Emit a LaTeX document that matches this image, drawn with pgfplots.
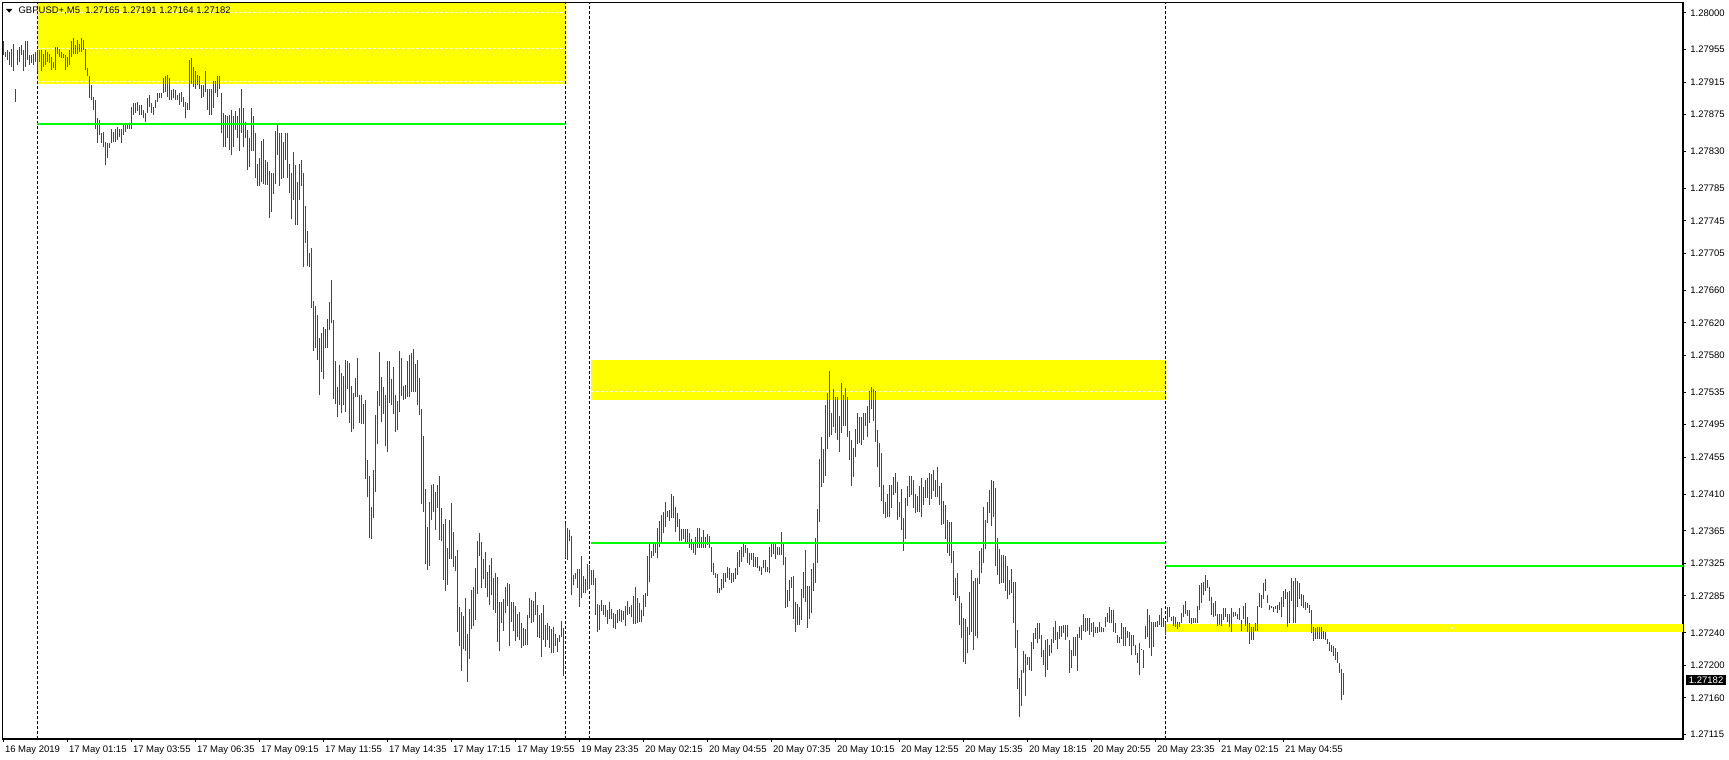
\documentclass[border=0pt]{standalone}
\usepackage{fontspec}
\setmainfont{Liberation Sans}
\usepackage{pgfplots}
\pgfplotsset{compat=1.18}
\usepackage{pgfplotstable}
\definecolor{barred}{RGB}{230,0,0}
\definecolor{zone}{RGB}{255,255,0}
\definecolor{level}{RGB}{0,255,0}
\newcommand\lbl{\fontsize{4.75pt}{5pt}\selectfont}

% GBPUSD M5 bars: index, high, low
\pgfplotstableread{
i h l
0 1.27965 1.27948
1 1.27952 1.27946
2 1.27954 1.27942
3 1.27952 1.27936
4 1.27956 1.27934
5 1.27962 1.27929
6 1.27907 1.27891
7 1.27954 1.27936
8 1.27958 1.27940
9 1.27960 1.27948
10 1.27954 1.27928
11 1.27965 1.27934
12 1.27965 1.27942
13 1.27948 1.27936
14 1.27948 1.27938
15 1.27950 1.27936
16 1.27952 1.27940
17 1.27954 1.27928
18 1.27954 1.27940
19 1.27954 1.27928
20 1.27950 1.27934
21 1.27954 1.27936
22 1.27952 1.27940
23 1.27950 1.27938
24 1.27946 1.27930
25 1.27940 1.27932
26 1.27958 1.27930
27 1.27958 1.27950
28 1.27956 1.27946
29 1.27952 1.27944
30 1.27950 1.27944
31 1.27948 1.27930
32 1.27946 1.27934
33 1.27954 1.27936
34 1.27965 1.27946
35 1.27969 1.27950
36 1.27960 1.27950
37 1.27967 1.27950
38 1.27962 1.27952
39 1.27969 1.27952
40 1.27967 1.27954
41 1.27956 1.27930
42 1.27932 1.27922
43 1.27922 1.27895
44 1.27911 1.27893
45 1.27897 1.27881
46 1.27893 1.27858
47 1.27871 1.27840
48 1.27869 1.27850
49 1.27852 1.27840
50 1.27854 1.27836
51 1.27842 1.27813
52 1.27840 1.27822
53 1.27840 1.27834
54 1.27858 1.27840
55 1.27854 1.27842
56 1.27858 1.27842
57 1.27860 1.27844
58 1.27858 1.27848
59 1.27858 1.27840
60 1.27862 1.27850
61 1.27862 1.27854
62 1.27864 1.27858
63 1.27862 1.27858
64 1.27885 1.27858
65 1.27889 1.27875
66 1.27889 1.27877
67 1.27891 1.27879
68 1.27887 1.27875
69 1.27887 1.27875
70 1.27881 1.27871
71 1.27877 1.27866
72 1.27895 1.27877
73 1.27899 1.27885
74 1.27889 1.27877
75 1.27885 1.27875
76 1.27893 1.27883
77 1.27901 1.27891
78 1.27901 1.27895
79 1.27901 1.27895
80 1.27920 1.27901
81 1.27922 1.27903
82 1.27924 1.27897
83 1.27920 1.27893
84 1.27905 1.27893
85 1.27907 1.27895
86 1.27905 1.27893
87 1.27899 1.27893
88 1.27901 1.27887
89 1.27903 1.27891
90 1.27897 1.27885
91 1.27891 1.27871
92 1.27889 1.27881
93 1.27942 1.27881
94 1.27944 1.27913
95 1.27934 1.27909
96 1.27928 1.27907
97 1.27924 1.27911
98 1.27922 1.27907
99 1.27911 1.27895
100 1.27911 1.27897
101 1.27928 1.27903
102 1.27907 1.27881
103 1.27907 1.27875
104 1.27907 1.27875
105 1.27916 1.27883
106 1.27916 1.27901
107 1.27922 1.27897
108 1.27922 1.27907
109 1.27901 1.27852
110 1.27877 1.27836
111 1.27875 1.27836
112 1.27873 1.27846
113 1.27875 1.27832
114 1.27881 1.27826
115 1.27873 1.27836
116 1.27879 1.27856
117 1.27873 1.27846
118 1.27883 1.27830
119 1.27907 1.27852
120 1.27883 1.27836
121 1.27866 1.27846
122 1.27856 1.27807
123 1.27846 1.27811
124 1.27883 1.27831
125 1.27873 1.27830
126 1.27852 1.27798
127 1.27815 1.27787
128 1.27822 1.27788
129 1.27843 1.27792
130 1.27845 1.27790
131 1.27820 1.27789
132 1.27817 1.27789
133 1.27806 1.27748
134 1.27803 1.27756
135 1.27803 1.27778
136 1.27855 1.27790
137 1.27864 1.27826
138 1.27853 1.27788
139 1.27853 1.27796
140 1.27842 1.27798
141 1.27853 1.27820
142 1.27853 1.27798
143 1.27815 1.27779
144 1.27804 1.27747
145 1.27829 1.27770
146 1.27813 1.27740
147 1.27793 1.27740
148 1.27815 1.27770
149 1.27820 1.27788
150 1.27804 1.27688
151 1.27763 1.27718
152 1.27732 1.27689
153 1.27705 1.27688
154 1.27712 1.27638
155 1.27647 1.27585
156 1.27641 1.27589
157 1.27629 1.27574
158 1.27601 1.27531
159 1.27607 1.27560
160 1.27615 1.27551
161 1.27612 1.27589
162 1.27625 1.27589
163 1.27645 1.27611
164 1.27672 1.27620
165 1.27623 1.27527
166 1.27573 1.27520
167 1.27541 1.27504
168 1.27568 1.27519
169 1.27558 1.27509
170 1.27555 1.27519
171 1.27574 1.27511
172 1.27573 1.27539
173 1.27571 1.27497
174 1.27542 1.27486
175 1.27534 1.27490
176 1.27552 1.27529
177 1.27577 1.27529
178 1.27531 1.27497
179 1.27531 1.27496
180 1.27520 1.27496
181 1.27525 1.27428
182 1.27452 1.27406
183 1.27432 1.27356
184 1.27394 1.27355
185 1.27440 1.27381
186 1.27507 1.27412
187 1.27536 1.27471
188 1.27584 1.27518
189 1.27553 1.27498
190 1.27541 1.27508
191 1.27531 1.27469
192 1.27573 1.27461
193 1.27573 1.27522
194 1.27551 1.27519
195 1.27566 1.27508
196 1.27531 1.27486
197 1.27524 1.27489
198 1.27585 1.27511
199 1.27577 1.27530
200 1.27542 1.27525
201 1.27544 1.27527
202 1.27573 1.27529
203 1.27580 1.27529
204 1.27583 1.27535
205 1.27588 1.27535
206 1.27569 1.27535
207 1.27574 1.27519
208 1.27552 1.27507
209 1.27514 1.27398
210 1.27481 1.27388
211 1.27416 1.27324
212 1.27370 1.27317
213 1.27400 1.27322
214 1.27421 1.27378
215 1.27422 1.27388
216 1.27412 1.27366
217 1.27421 1.27393
218 1.27432 1.27354
219 1.27393 1.27352
220 1.27373 1.27305
221 1.27379 1.27291
222 1.27344 1.27298
223 1.27378 1.27330
224 1.27399 1.27330
225 1.27363 1.27321
226 1.27334 1.27316
227 1.27341 1.27241
228 1.27272 1.27224
229 1.27265 1.27193
230 1.27261 1.27220
231 1.27283 1.27218
232 1.27238 1.27180
233 1.27269 1.27208
234 1.27292 1.27245
235 1.27296 1.27248
236 1.27319 1.27256
237 1.27352 1.27288
238 1.27362 1.27334
239 1.27351 1.27295
240 1.27330 1.27306
241 1.27339 1.27295
242 1.27314 1.27284
243 1.27323 1.27274
244 1.27332 1.27286
245 1.27307 1.27268
246 1.27313 1.27264
247 1.27308 1.27229
248 1.27278 1.27218
249 1.27278 1.27252
250 1.27281 1.27242
251 1.27296 1.27264
252 1.27301 1.27273
253 1.27300 1.27224
254 1.27278 1.27253
255 1.27278 1.27242
256 1.27273 1.27230
257 1.27263 1.27235
258 1.27265 1.27231
259 1.27252 1.27221
260 1.27246 1.27224
261 1.27245 1.27225
262 1.27262 1.27225
263 1.27283 1.27258
264 1.27280 1.27252
265 1.27279 1.27253
266 1.27290 1.27262
267 1.27274 1.27235
268 1.27262 1.27234
269 1.27264 1.27210
270 1.27274 1.27231
271 1.27250 1.27223
272 1.27252 1.27231
273 1.27248 1.27221
274 1.27245 1.27215
275 1.27247 1.27215
276 1.27238 1.27224
277 1.27234 1.27216
278 1.27237 1.27229
279 1.27254 1.27235
280 1.27246 1.27187
281 1.27373 1.27332
282 1.27368 1.27329
283 1.27366 1.27352
284 1.27359 1.27286
285 1.27311 1.27298
286 1.27313 1.27306
287 1.27318 1.27295
288 1.27318 1.27272
289 1.27334 1.27283
290 1.27310 1.27289
291 1.27306 1.27289
292 1.27324 1.27292
293 1.27323 1.27294
294 1.27317 1.27298
295 1.27317 1.27298
296 1.27307 1.27262
297 1.27275 1.27241
298 1.27274 1.27243
299 1.27280 1.27267
300 1.27274 1.27262
301 1.27274 1.27259
302 1.27268 1.27251
303 1.27278 1.27257
304 1.27269 1.27257
305 1.27264 1.27246
306 1.27263 1.27245
307 1.27268 1.27252
308 1.27269 1.27254
309 1.27268 1.27253
310 1.27267 1.27256
311 1.27273 1.27248
312 1.27279 1.27262
313 1.27272 1.27263
314 1.27274 1.27259
315 1.27285 1.27251
316 1.27296 1.27251
317 1.27283 1.27252
318 1.27276 1.27253
319 1.27268 1.27253
320 1.27286 1.27261
321 1.27289 1.27272
322 1.27334 1.27285
323 1.27350 1.27302
324 1.27340 1.27332
325 1.27350 1.27334
326 1.27350 1.27338
327 1.27368 1.27332
328 1.27377 1.27345
329 1.27384 1.27351
330 1.27388 1.27362
331 1.27400 1.27370
332 1.27389 1.27382
333 1.27390 1.27377
334 1.27410 1.27381
335 1.27408 1.27381
336 1.27394 1.27363
337 1.27387 1.27370
338 1.27379 1.27352
339 1.27367 1.27352
340 1.27367 1.27355
341 1.27367 1.27351
342 1.27367 1.27351
343 1.27362 1.27344
344 1.27355 1.27341
345 1.27351 1.27338
346 1.27357 1.27335
347 1.27368 1.27344
348 1.27368 1.27344
349 1.27357 1.27344
350 1.27366 1.27344
351 1.27357 1.27344
352 1.27361 1.27348
353 1.27359 1.27344
354 1.27345 1.27314
355 1.27326 1.27311
356 1.27313 1.27307
357 1.27312 1.27289
358 1.27295 1.27289
359 1.27306 1.27292
360 1.27313 1.27295
361 1.27313 1.27302
362 1.27321 1.27307
363 1.27319 1.27305
364 1.27313 1.27301
365 1.27313 1.27302
366 1.27319 1.27306
367 1.27339 1.27311
368 1.27341 1.27321
369 1.27345 1.27327
370 1.27349 1.27333
371 1.27348 1.27338
372 1.27344 1.27326
373 1.27338 1.27323
374 1.27338 1.27329
375 1.27338 1.27321
376 1.27333 1.27321
377 1.27333 1.27319
378 1.27322 1.27316
379 1.27321 1.27311
380 1.27329 1.27319
381 1.27329 1.27314
382 1.27321 1.27314
383 1.27345 1.27313
384 1.27350 1.27333
385 1.27351 1.27336
386 1.27351 1.27330
387 1.27345 1.27335
388 1.27345 1.27335
389 1.27363 1.27335
390 1.27351 1.27323
391 1.27333 1.27270
392 1.27292 1.27272
393 1.27305 1.27279
394 1.27308 1.27295
395 1.27310 1.27257
396 1.27278 1.27241
397 1.27275 1.27249
398 1.27271 1.27249
399 1.27294 1.27256
400 1.27315 1.27283
401 1.27341 1.27278
402 1.27297 1.27246
403 1.27297 1.27257
404 1.27318 1.27264
405 1.27326 1.27291
406 1.27356 1.27301
407 1.27392 1.27326
408 1.27453 1.27376
409 1.27480 1.27419
410 1.27465 1.27424
411 1.27519 1.27432
412 1.27534 1.27465
413 1.27561 1.27480
414 1.27509 1.27482
415 1.27539 1.27492
416 1.27529 1.27485
417 1.27529 1.27476
418 1.27506 1.27462
419 1.27546 1.27485
420 1.27531 1.27493
421 1.27540 1.27493
422 1.27529 1.27480
423 1.27487 1.27452
424 1.27476 1.27420
425 1.27466 1.27431
426 1.27490 1.27455
427 1.27509 1.27471
428 1.27504 1.27473
429 1.27504 1.27470
430 1.27509 1.27476
431 1.27509 1.27493
432 1.27518 1.27480
433 1.27536 1.27497
434 1.27541 1.27514
435 1.27539 1.27500
436 1.27536 1.27474
437 1.27489 1.27443
438 1.27473 1.27419
439 1.27460 1.27402
440 1.27421 1.27386
441 1.27400 1.27381
442 1.27410 1.27382
443 1.27421 1.27382
444 1.27421 1.27393
445 1.27431 1.27409
446 1.27436 1.27411
447 1.27425 1.27378
448 1.27400 1.27382
449 1.27416 1.27366
450 1.27381 1.27340
451 1.27405 1.27355
452 1.27420 1.27395
453 1.27432 1.27406
454 1.27432 1.27409
455 1.27427 1.27393
456 1.27410 1.27387
457 1.27408 1.27388
458 1.27420 1.27388
459 1.27430 1.27382
460 1.27419 1.27397
461 1.27427 1.27405
462 1.27430 1.27405
463 1.27436 1.27397
464 1.27435 1.27404
465 1.27440 1.27414
466 1.27427 1.27406
467 1.27443 1.27406
468 1.27420 1.27397
469 1.27424 1.27372
470 1.27402 1.27373
471 1.27397 1.27355
472 1.27378 1.27338
473 1.27376 1.27334
474 1.27376 1.27326
475 1.27340 1.27286
476 1.27307 1.27279
477 1.27313 1.27283
478 1.27285 1.27250
479 1.27276 1.27234
480 1.27258 1.27204
481 1.27257 1.27202
482 1.27247 1.27215
483 1.27290 1.27237
484 1.27317 1.27241
485 1.27303 1.27219
486 1.27307 1.27236
487 1.27307 1.27234
488 1.27340 1.27300
489 1.27344 1.27313
490 1.27394 1.27326
491 1.27378 1.27343
492 1.27400 1.27375
493 1.27415 1.27387
494 1.27427 1.27371
495 1.27426 1.27382
496 1.27417 1.27322
497 1.27356 1.27311
498 1.27343 1.27300
499 1.27335 1.27301
500 1.27335 1.27301
501 1.27334 1.27291
502 1.27322 1.27281
503 1.27305 1.27286
504 1.27318 1.27289
505 1.27302 1.27252
506 1.27302 1.27221
507 1.27243 1.27171
508 1.27185 1.27137
509 1.27194 1.27150
510 1.27218 1.27191
511 1.27214 1.27162
512 1.27210 1.27200
513 1.27210 1.27194
514 1.27229 1.27193
515 1.27240 1.27220
516 1.27246 1.27232
517 1.27252 1.27227
518 1.27252 1.27232
519 1.27237 1.27210
520 1.27219 1.27200
521 1.27231 1.27186
522 1.27232 1.27194
523 1.27225 1.27211
524 1.27232 1.27215
525 1.27247 1.27227
526 1.27254 1.27231
527 1.27241 1.27220
528 1.27248 1.27232
529 1.27248 1.27235
530 1.27250 1.27240
531 1.27250 1.27231
532 1.27250 1.27235
533 1.27231 1.27191
534 1.27219 1.27197
535 1.27235 1.27211
536 1.27235 1.27211
537 1.27238 1.27193
538 1.27247 1.27234
539 1.27250 1.27231
540 1.27263 1.27242
541 1.27258 1.27241
542 1.27258 1.27242
543 1.27258 1.27237
544 1.27252 1.27241
545 1.27253 1.27235
546 1.27247 1.27240
547 1.27247 1.27240
548 1.27253 1.27241
549 1.27247 1.27241
550 1.27246 1.27241
551 1.27259 1.27247
552 1.27264 1.27253
553 1.27272 1.27252
554 1.27268 1.27252
555 1.27268 1.27241
556 1.27252 1.27240
557 1.27237 1.27227
558 1.27235 1.27227
559 1.27252 1.27232
560 1.27247 1.27224
561 1.27247 1.27224
562 1.27242 1.27234
563 1.27241 1.27224
564 1.27237 1.27213
565 1.27237 1.27224
566 1.27225 1.27213
567 1.27215 1.27203
568 1.27227 1.27188
569 1.27220 1.27219
570 1.27219 1.27197
571 1.27248 1.27232
572 1.27269 1.27235
573 1.27262 1.27221
574 1.27253 1.27211
575 1.27253 1.27223
576 1.27253 1.27247
577 1.27254 1.27247
578 1.27262 1.27250
579 1.27270 1.27247
580 1.27258 1.27247
581 1.27253 1.27237
582 1.27272 1.27253
583 1.27272 1.27259
584 1.27259 1.27254
585 1.27260 1.27248
586 1.27259 1.27247
587 1.27253 1.27244
588 1.27253 1.27247
589 1.27264 1.27252
590 1.27274 1.27259
591 1.27279 1.27263
592 1.27268 1.27260
593 1.27268 1.27252
594 1.27258 1.27251
595 1.27258 1.27252
596 1.27258 1.27252
597 1.27273 1.27252
598 1.27298 1.27268
599 1.27301 1.27276
600 1.27302 1.27286
601 1.27311 1.27291
602 1.27305 1.27295
603 1.27296 1.27279
604 1.27284 1.27262
605 1.27276 1.27259
606 1.27279 1.27260
607 1.27263 1.27248
608 1.27263 1.27250
609 1.27263 1.27248
610 1.27270 1.27256
611 1.27270 1.27259
612 1.27263 1.27253
613 1.27263 1.27247
614 1.27270 1.27241
615 1.27265 1.27259
616 1.27266 1.27260
617 1.27263 1.27257
618 1.27270 1.27256
619 1.27255 1.27242
620 1.27273 1.27257
621 1.27276 1.27248
622 1.27259 1.27241
623 1.27252 1.27226
624 1.27247 1.27231
625 1.27247 1.27231
626 1.27252 1.27242
627 1.27273 1.27242
628 1.27289 1.27272
629 1.27286 1.27270
630 1.27301 1.27281
631 1.27306 1.27291
632 1.27286 1.27277
633 1.27274 1.27268
634 1.27273 1.27270
635 1.27272 1.27265
636 1.27273 1.27269
637 1.27274 1.27264
638 1.27278 1.27268
639 1.27284 1.27259
640 1.27291 1.27272
641 1.27294 1.27281
642 1.27290 1.27247
643 1.27291 1.27252
644 1.27307 1.27279
645 1.27303 1.27252
646 1.27307 1.27252
647 1.27303 1.27272
648 1.27301 1.27281
649 1.27287 1.27273
650 1.27286 1.27270
651 1.27278 1.27268
652 1.27276 1.27270
653 1.27274 1.27264
654 1.27268 1.27240
655 1.27247 1.27230
656 1.27246 1.27232
657 1.27247 1.27232
658 1.27247 1.27232
659 1.27247 1.27232
660 1.27242 1.27232
661 1.27241 1.27231
662 1.27232 1.27226
663 1.27229 1.27218
664 1.27225 1.27216
665 1.27224 1.27211
666 1.27221 1.27207
667 1.27216 1.27203
668 1.27203 1.27191
669 1.27195 1.27157
670 1.27191 1.27164
}\bars

\begin{document}
\begin{tikzpicture}
\path[use as bounding box] (0,0) rectangle (864.5pt,380pt);
\begin{axis}[
  at={(1.1pt,10.5pt)}, anchor=south west,
  scale only axis, width=840.4pt, height=368.15pt,
  xmin=-0.6, xmax=839.8, ymin=1.271097, ymax=1.280123,
  clip=false,
  axis line style={line width=0.6pt},
  tick align=outside, major tick length=1.5pt,
  tick style={black, line width=0.5pt},
  xtick pos=bottom, ytick pos=right, yticklabel pos=right,
  xtick={0,32,...,640},
  xticklabels={16 May 2019,17 May 01:15,17 May 03:55,17 May 06:35,17 May 09:15,17 May 11:55,17 May 14:35,17 May 17:15,17 May 19:55,19 May 23:35,20 May 02:15,20 May 04:55,20 May 07:35,20 May 10:15,20 May 12:55,20 May 15:35,20 May 18:15,20 May 20:55,20 May 23:35,21 May 02:15,21 May 04:55},
  ytick={1.27115,1.27160,1.27200,1.27240,1.27285,1.27325,1.27365,1.27410,1.27455,1.27495,1.27535,1.27580,1.27620,1.27660,1.27705,1.27745,1.27785,1.27830,1.27875,1.27915,1.27955,1.28000},
  yticklabels={1.27115,1.27160,1.27200,1.27240,1.27285,1.27325,1.27365,1.27410,1.27455,1.27495,1.27535,1.27580,1.27620,1.27660,1.27705,1.27745,1.27785,1.27830,1.27875,1.27915,1.27955,1.28000},
  xticklabel style={font=\lbl, anchor=base west, inner sep=0pt, xshift=0.6pt, yshift=-5pt},
  yticklabel style={font=\lbl, anchor=base west, inner sep=0pt, xshift=2pt, yshift=-1.65pt},
]
% zones
\fill[zone] (axis cs:16.8,1.279123) rectangle (axis cs:280.6,1.280123);
\fill[zone] (axis cs:293.8,1.275256) rectangle (axis cs:581.05,1.275743);
\fill[zone] (axis cs:581.3,1.272409) rectangle (axis cs:839.8,1.272507);
% white dashed levels inside zones
\draw[white, line width=0.5pt, dash pattern=on 1.5pt off 0.9pt] (axis cs:16.8,1.280007) -- (axis cs:280.6,1.280007);
\draw[white, line width=0.5pt, dash pattern=on 1.5pt off 0.9pt] (axis cs:16.8,1.279563) -- (axis cs:280.6,1.279563);
\draw[white, line width=0.5pt, dash pattern=on 1.5pt off 0.9pt] (axis cs:16.8,1.279159) -- (axis cs:280.6,1.279159);
\draw[white, line width=0.5pt, dash pattern=on 1.5pt off 0.9pt] (axis cs:293.8,1.275359) -- (axis cs:581.05,1.275359);
% period separators
\draw[black, line width=0.5pt, dash pattern=on 1.5pt off 1pt] (axis cs:16.85,1.271097) -- (axis cs:16.85,1.279123);
\draw[blue!80!black, line width=0.5pt, dash pattern=on 1.5pt off 1pt] (axis cs:16.85,1.279123) -- (axis cs:16.85,1.280123);
\draw[black, line width=0.5pt, dash pattern=on 1.5pt off 1pt] (axis cs:281.05,1.271097) -- (axis cs:281.05,1.280123);
\draw[black, line width=0.5pt, dash pattern=on 1.5pt off 1pt] (axis cs:293,1.271097) -- (axis cs:293,1.280123);
\draw[black, line width=0.5pt, dash pattern=on 1.5pt off 1pt] (axis cs:581.05,1.271097) -- (axis cs:581.05,1.280123);
% bars (low to high)
\addplot[draw=none, mark=none,
  error bars/.cd, y dir=plus, y explicit, error mark=none,
  error bar style={draw=barred, line width=0.5pt, solid}]
  table[x=i, y=l, y error expr=\thisrow{h}-\thisrow{l}] {\bars};
% green levels
\draw[level, line width=1pt] (axis cs:16.8,1.278636) -- (axis cs:280.6,1.278636);
\draw[level, line width=1pt] (axis cs:294,1.273500) -- (axis cs:581.05,1.273500);
\draw[level, line width=1pt] (axis cs:581.3,1.273218) -- (axis cs:839.8,1.273218);
\fill[white] (axis cs:724.3,1.272458) ++(-0.5pt,-0.5pt) rectangle ++(1pt,1pt);
% current price
\node[fill=black, text=white, font=\lbl, inner sep=0pt, minimum width=20pt, minimum height=5.35pt, anchor=west, xshift=1.35pt] at (axis cs:839.8,1.27182) {1.27182};
\end{axis}
\fill (3pt,375.5pt) -- (6.2pt,375.5pt) -- (4.6pt,373.7pt) -- cycle;
\node[font=\lbl, anchor=base west, inner sep=0pt] at (9.1pt,373pt) {GBPUSD+,M5\ \ 1.27165 1.27191 1.27164 1.27182};
\end{tikzpicture}
\end{document}
